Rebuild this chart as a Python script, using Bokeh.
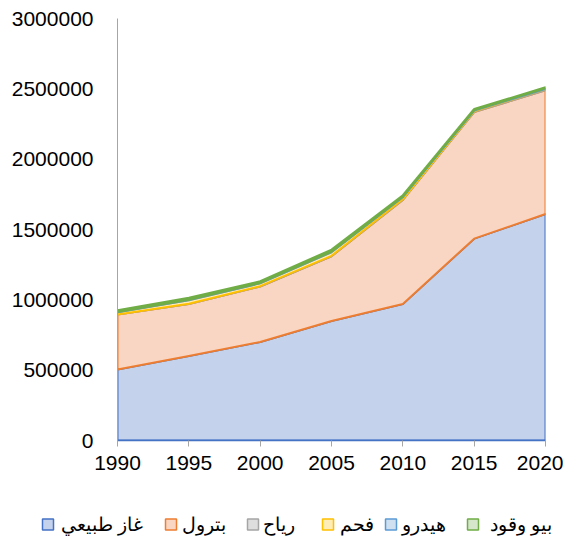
from bokeh.plotting import figure
from bokeh.models import ColumnDataSource, FixedTicker, BasicTickFormatter, Range1d
from bokeh.core.properties import value
from bokeh.embed import file_html
from bokeh.resources import INLINE

years = [1990, 1995, 2000, 2005, 2010, 2015, 2020]
gas = [505000, 600000, 700000, 850000, 970000, 1435000, 1610000]
petroleum = [390000, 370000, 395000, 460000, 740000, 900000, 880000]
wind = [1000, 2000, 2000, 3000, 5000, 5000, 6000]
coal = [15000, 25000, 20000, 25000, 15000, 5000, 3000]
hydro = [3000, 3000, 3000, 4000, 4000, 4000, 4000]
biofuel = [12000, 15000, 12000, 15000, 10000, 8000, 8000]

labels = ["غاز طبيعي", "بترول", "رياح", "فحم", "هيدرو", "بيو وقود"]
series = [gas, petroleum, wind, coal, hydro, biofuel]
line_colors = ["#4472C4", "#ED7D31", "#A5A5A5", "#FFC000", "#5B9BD5", "#70AD47"]
fill_colors = ["#C5D2EC", "#F9D6C3", "#DEDEDE", "#FFEDB8", "#CFE0F1", "#D5E6CB"]

x_ticks = [1990, 1995, 2000, 2005, 2010, 2015, 2020]
y_ticks = [0, 500000, 1000000, 1500000, 2000000, 2500000, 3000000]

# legend layout (pixel positions of swatches / labels in the legend strip)
legend_box_left = [42, 165, 247, 322, 385, 467]
legend_text_left = [60, 181, 262, 339, 401, 489]

p = figure(width=563, height=488, output_backend="svg", toolbar_location=None,
           x_range=Range1d(1990, 2020), y_range=Range1d(0, 3000000),
           min_border_left=117, min_border_right=18, min_border_top=18, min_border_bottom=48)
p.outline_line_color = None
p.xgrid.grid_line_color = None
p.ygrid.grid_line_color = None

# stacked polygons
base = [0] * len(years)
xs_list, ys_list = [], []
for s in series:
    top = [b + v for b, v in zip(base, s)]
    xs_list.append(years + years[::-1])
    ys_list.append(top + base[::-1])
    base = top

for i in range(len(series)):
    src = ColumnDataSource(dict(x=xs_list[i], y=ys_list[i]))
    p.patch("x", "y", source=src, fill_color=fill_colors[i], line_color=line_colors[i],
            line_width=2, line_join="round")

fs = "21px"
p.xaxis.ticker = FixedTicker(ticks=x_ticks)
p.xaxis.minor_tick_line_color = None
p.xaxis.major_tick_in = 0
p.xaxis.major_tick_out = 6
p.xaxis.major_tick_line_color = "#A6A6A6"
p.xaxis.axis_line_color = "#4472C4"
p.xaxis.axis_line_width = 1.5
p.xaxis.major_label_standoff = 9
p.xaxis.major_label_text_font = "Liberation Sans"
p.xaxis.major_label_text_font_size = fs
p.xaxis.major_label_text_color = "#000000"

p.yaxis.ticker = FixedTicker(ticks=y_ticks)
p.yaxis.formatter = BasicTickFormatter(use_scientific=False)
p.yaxis.minor_tick_line_color = None
p.yaxis.major_tick_in = 0
p.yaxis.major_tick_out = 0
p.yaxis.axis_line_color = "#A6A6A6"
p.yaxis.major_label_standoff = 24
p.yaxis.major_label_text_font = "Liberation Sans"
p.yaxis.major_label_text_font_size = fs
p.yaxis.major_label_text_color = "#000000"

# legend strip (coordinates = pixels inside the strip, y measured downward)
pl = figure(width=563, height=50, output_backend="svg", toolbar_location=None,
            x_range=Range1d(0, 563), y_range=Range1d(50, 0),
            x_axis_location=None, y_axis_location=None, min_border=0)
pl.outline_line_color = None
pl.xgrid.grid_line_color = None
pl.ygrid.grid_line_color = None

cy = 36
box_src = ColumnDataSource(dict(
    left=legend_box_left, right=[b + 11 for b in legend_box_left],
    top=[cy - 5.5] * 6, bottom=[cy + 5.5] * 6,
    fill=fill_colors, line=line_colors))
pl.quad(left="left", right="right", top="top", bottom="bottom", source=box_src,
        fill_color="fill", line_color="line", line_width=1.5)

txt_src = ColumnDataSource(dict(x=legend_text_left, y=[cy] * 6, t=labels))
pl.text(x="x", y="y", text="t", source=txt_src, text_align="left",
        text_baseline="middle", text_font=value("Liberation Sans"),
        text_font_size="19px", text_color="#000000")

open("out.html", "w").write(file_html([p, pl], INLINE))
